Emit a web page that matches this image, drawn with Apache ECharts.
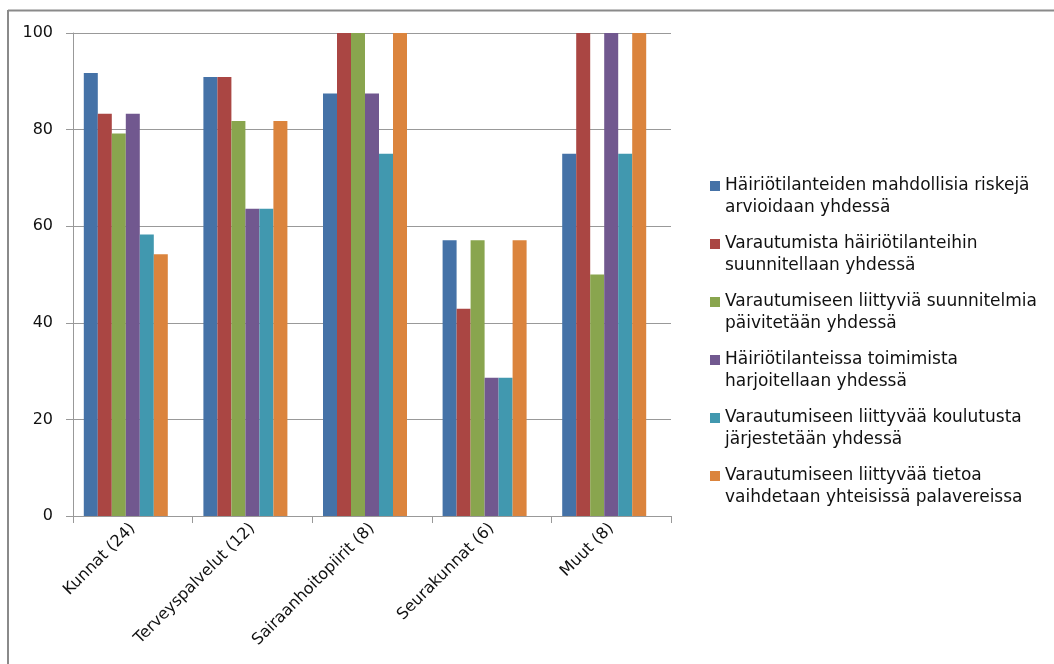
<!DOCTYPE html>
<html>
<head>
<meta charset="utf-8">
<script src="https://cdn.jsdelivr.net/npm/echarts@6/dist/echarts.min.js"></script>
<style>
  html, body { margin: 0; padding: 0; background: #fff; }
  #chart { width: 1054px; height: 664px; }
</style>
</head>
<body>
<div id="chart"></div>
<script>
// Organisation groups (number of respondents in brackets)
const categories = ['Kunnat (24)', 'Terveyspalvelut (12)', 'Sairaanhoitopiirit (8)', 'Seurakunnat (6)', 'Muut (8)'];

// Share (%) of respondents per cooperation activity
const seriesNames = [
  'Häiriötilanteiden mahdollisia riskejä\narvioidaan yhdessä',
  'Varautumista häiriötilanteihin\nsuunnitellaan yhdessä',
  'Varautumiseen liittyviä suunnitelmia\npäivitetään yhdessä',
  'Häiriötilanteissa toimimista\nharjoitellaan yhdessä',
  'Varautumiseen liittyvää koulutusta\njärjestetään yhdessä',
  'Varautumiseen liittyvää tietoa\nvaihdetaan yhteisissä palavereissa'
];
const riskit      = [91.7, 90.9, 87.5, 57.1, 75];
const suunnittelu = [83.3, 90.9, 100, 42.9, 100];
const paivitys    = [79.2, 81.8, 100, 57.1, 50];
const harjoitus   = [83.3, 63.6, 87.5, 28.6, 100];
const koulutus    = [58.3, 63.6, 75, 28.6, 75];
const palaverit   = [54.2, 81.8, 100, 57.1, 100];

const yTicks = [0, 20, 40, 60, 80, 100];

const colors = ['#4572A7', '#AA4643', '#89A54E', '#71588F', '#4198AF', '#DB843D'];
const values = [riskit, suunnittelu, paivitys, harjoitus, koulutus, palaverit];

const FONT = '"DejaVu Sans", Verdana, sans-serif';
const gridColor = '#999999';

const chart = echarts.init(document.getElementById('chart'), null, { renderer: 'canvas' });

chart.setOption({
  animation: false,
  color: colors,
  textStyle: { fontFamily: FONT },
  graphic: [
    { type: 'line', shape: { x1: 8, y1: 10.5, x2: 1054, y2: 10.5 }, style: { stroke: '#8a8a8a', lineWidth: 2 } },
    { type: 'line', shape: { x1: 8, y1: 10, x2: 8, y2: 664 }, style: { stroke: '#8a8a8a', lineWidth: 2 } }
  ],
  grid: [
    { left: 73, top: 33, width: 598, height: 483 },
    { left: 66, top: 33, width: 598, height: 483 }
  ],
  legend: {
    orient: 'vertical',
    left: 705,
    top: 170,
    itemWidth: 10,
    itemHeight: 44,
    itemGap: 14,
    icon: 'path://M0,6h10v10h-10z M0,0L10,0 M0,44L10,44',
    textStyle: { fontFamily: FONT, fontSize: 17, lineHeight: 22, color: '#111' },
    data: seriesNames
  },
  xAxis: [
    {
      type: 'category',
      gridIndex: 0,
      data: categories,
      axisLine: { lineStyle: { color: gridColor, width: 1 } },
      axisTick: { show: true, length: 7, lineStyle: { color: gridColor } },
      axisLabel: { rotate: 45, margin: 10, fontSize: 16, color: '#111', fontFamily: FONT, interval: 0 }
    },
    {
      type: 'category',
      gridIndex: 1,
      data: categories,
      show: false
    }
  ],
  yAxis: [
    {
      type: 'value',
      gridIndex: 0,
      min: 0, max: 100, interval: 20,
      axisLine: { show: true, lineStyle: { color: gridColor, width: 1 } },
      axisTick: { show: true, length: 7, lineStyle: { color: gridColor } },
      splitLine: { show: true, lineStyle: { color: gridColor, width: 1 } },
      axisLabel: {
        margin: 20, fontSize: 16, color: '#111', fontFamily: FONT,
        formatter: v => (yTicks.includes(v) ? String(v) : '')
      }
    },
    {
      type: 'value',
      gridIndex: 1,
      min: 0, max: 100,
      show: false,
      splitLine: { show: false }
    }
  ],
  series: seriesNames.map((name, i) => ({
    name: name,
    type: 'bar',
    xAxisIndex: 1,
    yAxisIndex: 1,
    barWidth: 14,
    barGap: '0%',
    data: values[i],
    itemStyle: { color: colors[i] }
  }))
});
</script>
</body>
</html>
